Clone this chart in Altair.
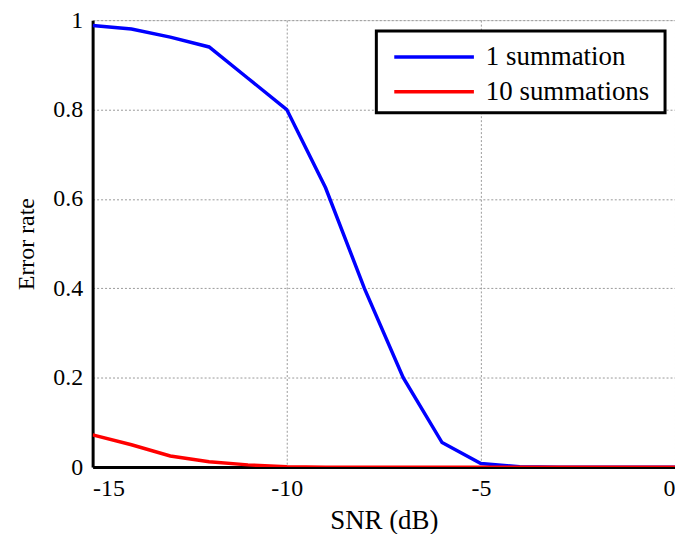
import altair as alt
import pandas as pd

snr = [-15, -14, -13, -12, -11, -10, -9, -8, -7, -6, -5, -4, -3, -2, -1, 0]
one_sum = [0.988, 0.98, 0.962, 0.94, 0.87, 0.80, 0.625, 0.40, 0.20, 0.055, 0.008, 0.001, 0, 0, 0, 0]
ten_sum = [0.072, 0.05, 0.025, 0.012, 0.005, 0.001, 0, 0, 0, 0, 0, 0, 0, 0, 0, 0]
series = ["1 summation", "10 summations"]

rows = []
for x, a, b in zip(snr, one_sum, ten_sum):
    rows.append({"snr": x, "rate": a, "series": series[0], "ord": 0})
    rows.append({"snr": x, "rate": b, "series": series[1], "ord": 1})
df = pd.DataFrame(rows)

font = "Liberation Serif"

frame = alt.Chart(pd.DataFrame({"k": [0]})).mark_rect(
    fill="white", stroke="black", strokeWidth=3
).encode(
    x=alt.value(285), x2=alt.value(575), y=alt.value(11), y2=alt.value(93)
)

lines = alt.Chart(df).mark_line(strokeWidth=3.5, clip=True).encode(
    x=alt.X("snr:Q", title="SNR (dB)",
            scale=alt.Scale(domain=[-15, 0], nice=False, zero=False),
            axis=alt.Axis(values=[-15, -10, -5, 0], labelExpr="datum.value + ''",
                          labelFontSize=24, titleFontSize=27, labelFont=font, titleFont=font,
                          labelColor="black", titleColor="black", titleFontWeight="normal",
                          domainColor="black", domainWidth=3, ticks=False,
                          labelPadding=10, titlePadding=7,
                          gridColor="#999999", gridDash=[2, 2], gridWidth=1, gridOpacity=1)),
    y=alt.Y("rate:Q", title="Error rate",
            scale=alt.Scale(domain=[0, 1], nice=False),
            axis=alt.Axis(values=[0, 0.2, 0.4, 0.6, 0.8, 1], labelExpr="datum.value + ''",
                          labelFontSize=24, titleFontSize=24, labelFont=font, titleFont=font,
                          labelColor="black", titleColor="black", titleFontWeight="normal",
                          domainColor="black", domainWidth=3, ticks=False,
                          labelPadding=10, titlePadding=14,
                          gridColor="#999999", gridDash=[2, 2], gridWidth=1, gridOpacity=1)),
    color=alt.Color("series:N",
                    scale=alt.Scale(domain=series, range=["#0000FF", "#FF0000"]),
                    legend=alt.Legend(title=None, orient="none", legendX=323, legendY=17,
                                      symbolType="M-2.222,0H2.222", symbolSize=1296,
                                      symbolStrokeWidth=3.5, symbolFillColor="transparent",
                                      labelFontSize=27, labelFont=font, labelColor="black",
                                      labelLimit=400,
                                      padding=0, labelOffset=32, symbolOffset=0)),
    order=alt.Order("ord:Q"),
)

chart = alt.layer(frame, lines).properties(
    width=585, height=449,
    autosize=alt.AutoSizeParams(type="none"),
    padding={"left": 85, "top": 11, "right": 0, "bottom": 66},
).configure_view(
    stroke="#999999", strokeWidth=1
).configure(background="white")

chart.save("out.html", embed_options={"renderer": "svg", "actions": False})
